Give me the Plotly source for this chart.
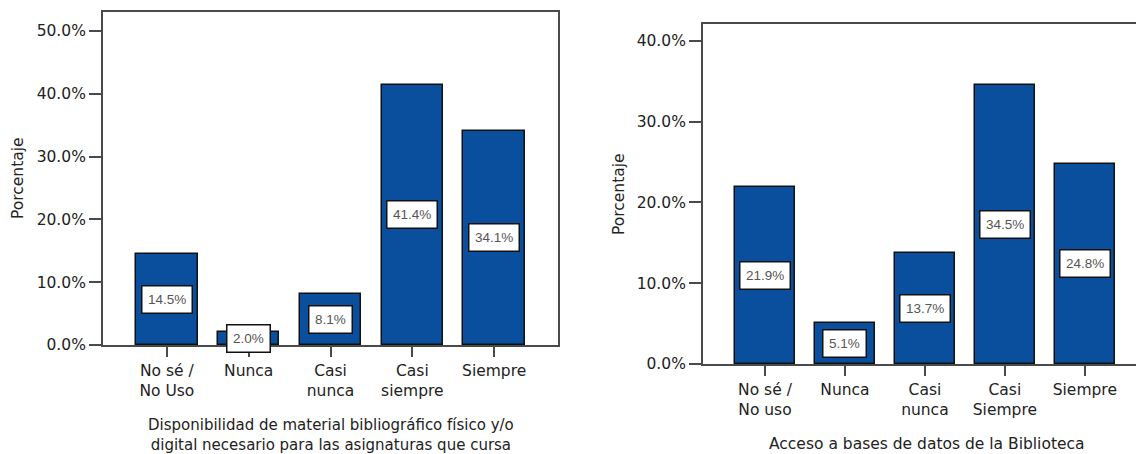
import plotly.graph_objects as go

W, H = 1136, 454

# ---- data ----
cats_left = ["No sé /<br>No Uso", "Nunca", "Casi<br>nunca", "Casi<br>siempre", "Siempre"]
vals_left = [14.5, 2.0, 8.1, 41.4, 34.1]
title_left = "Disponibilidad de material bibliográfico físico y/o<br>digital necesario para las asignaturas que cursa"
yticks_left = [0, 10, 20, 30, 40, 50]

cats_right = ["No sé /<br>No uso", "Nunca", "Casi<br>nunca", "Casi<br>Siempre", "Siempre"]
vals_right = [21.9, 5.1, 13.7, 34.5, 24.8]
title_right = "Acceso a bases de datos de la Biblioteca"
yticks_right = [0, 10, 20, 30, 40]

ytitle = "Porcentaje"

BLUE = "#0A4F9E"
AXC = "#4a4a4a"
TXT = "#222222"
FONT = "DejaVu Sans"

def px_x(p):
    return p / W

def px_y(p):
    return 1 - p / H

fig = go.Figure()

idx = list(range(5))
fig.add_trace(go.Bar(x=idx, y=vals_left, width=0.75, marker=dict(color=BLUE, line=dict(color="#111", width=1.5)),
                     xaxis="x", yaxis="y", showlegend=False, hoverinfo="skip"))
fig.add_trace(go.Bar(x=idx, y=vals_right, width=0.75, marker=dict(color=BLUE, line=dict(color="#111", width=1.5)),
                     xaxis="x2", yaxis="y2", showlegend=False, hoverinfo="skip"))

common_x = dict(tickmode="array", tickvals=idx, ticks="outside", ticklen=10, tickwidth=2, tickcolor=AXC,
                showline=True, linecolor=AXC, linewidth=2, showgrid=False, zeroline=False,
                tickfont=dict(family=FONT, size=15.5, color=TXT), automargin=False)
common_y = dict(tickmode="array", ticks="outside", ticklen=12, tickwidth=2, tickcolor=AXC,
                showline=True, linecolor=AXC, linewidth=2, showgrid=False, zeroline=False,
                tickfont=dict(family=FONT, size=15.5, color=TXT), automargin=False)

fig.update_layout(
    width=W, height=H,
    margin=dict(l=0, r=0, t=0, b=0),
    paper_bgcolor="white", plot_bgcolor="white",
    bargap=0,
    xaxis=dict(common_x, domain=[px_x(103), px_x(558)], range=[-0.78, 4.78], ticktext=cats_left,
               mirror=True, anchor="y"),
    yaxis=dict(common_y, domain=[px_y(345), px_y(12)], range=[0, 53.0], tickvals=yticks_left,
               ticktext=[f"{v:.1f}%" for v in yticks_left], mirror=True, anchor="x"),
    xaxis2=dict(common_x, domain=[px_x(703), 1.0], range=[-0.775, 4.64], ticktext=cats_right,
                mirror=True, anchor="y2"),
    yaxis2=dict(common_y, domain=[px_y(364), px_y(24)], range=[0, 42.1], tickvals=yticks_right,
                ticktext=[f"{v:.1f}%" for v in yticks_right], mirror=False, anchor="x2"),
)

anns = []
for xr, yr, vals in (("x", "y", vals_left), ("x2", "y2", vals_right)):
    for i, v in enumerate(vals):
        anns.append(dict(x=i, y=v / 2, xref=xr, yref=yr, text=f"{v:.1f}%", showarrow=False,
                         font=dict(family="Liberation Sans", size=13.5, color="#555"),
                         bgcolor="white", bordercolor="#111", borderwidth=1.5, borderpad=5.5))

anns.append(dict(x=px_x(331), y=px_y(434.5), xref="paper", yref="paper", text=title_left, showarrow=False,
                 font=dict(family=FONT, size=15, color=TXT), xanchor="center", yanchor="middle"))
anns.append(dict(x=px_x(927), y=px_y(444), xref="paper", yref="paper", text=title_right, showarrow=False,
                 font=dict(family=FONT, size=15.5, color=TXT), xanchor="center", yanchor="middle"))
anns.append(dict(x=px_x(18), y=px_y(178), xref="paper", yref="paper", text=ytitle, showarrow=False,
                 textangle=-90, font=dict(family=FONT, size=15.5, color=TXT), xanchor="center", yanchor="middle"))
anns.append(dict(x=px_x(619), y=px_y(194), xref="paper", yref="paper", text=ytitle, showarrow=False,
                 textangle=-90, font=dict(family=FONT, size=15.5, color=TXT), xanchor="center", yanchor="middle"))

fig.update_layout(annotations=anns)

fig.write_html("out.html", config={"displayModeBar": False},
               post_script="document.body.style.margin='0';document.body.style.overflow='hidden';")
